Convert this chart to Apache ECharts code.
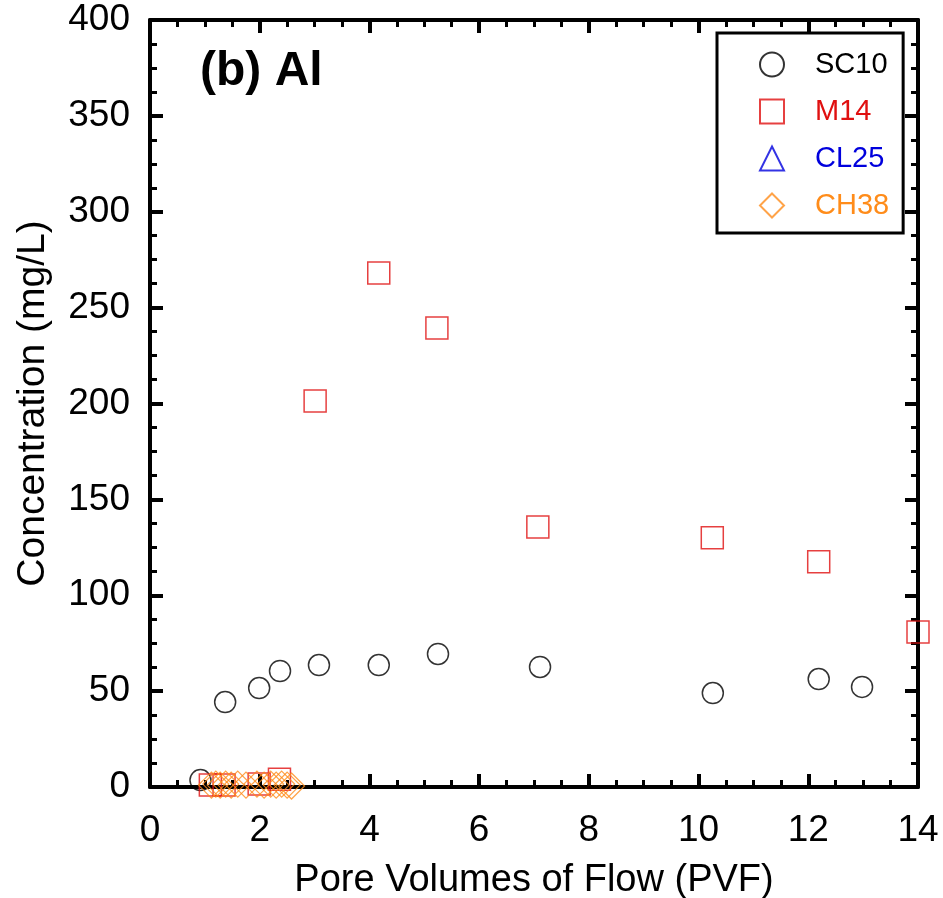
<!DOCTYPE html>
<html><head><meta charset="utf-8">
<script src="https://cdn.jsdelivr.net/npm/echarts@6/dist/echarts.min.js"></script>
<style>html,body{margin:0;padding:0;background:#fff}#c{width:943px;height:898px}</style>
</head><body><div id="c"></div>
<script>
var seriesNames = ['SC10', 'M14', 'CL25', 'CH38'];
var sc10 = [[0.92,3.6],[1.37,44.3],[1.99,51.6],[2.37,60.5],[3.08,63.6],[4.17,63.6],[5.25,69.4],[7.11,62.6],[10.26,49],[12.19,56.3],[12.98,52.2]];
var m14 = [[1.10,1],[1.35,1],[1.99,1.5],[2.36,4],[3.01,201.3],[4.17,268],[5.23,239.4],[7.07,135.6],[10.25,130],[12.19,117.5],[14.0,80.8]];
var cl25 = [];
var ch38 = [[1.12,1],[1.2,1.5],[1.28,1],[1.38,1.5],[1.48,1],[1.6,1.5],[1.75,1],[1.95,1.5],[2.08,1],[2.2,1.5],[2.3,1],[2.4,1.5],[2.5,1],[2.58,0.5]];
var xTicks = {min:0, max:14, interval:2};
var yTicks = {min:0, max:400, interval:50};

var FONT = 'Liberation Sans, Arial, sans-serif';
var colors = {SC10:'#000000', M14:'#e01010', CL25:'#0000dd', CH38:'#ff8c1a'};

function axisCommon(showLabel, margin){
  return {
    axisLine:{show:true, onZero:false, lineStyle:{color:'#000', width:4}},
    axisTick:{show:true, inside:true, length:13, lineStyle:{color:'#000', width:4}},
    minorTick:{show:true, splitNumber:4, length:7, lineStyle:{color:'#000', width:3}},
    splitLine:{show:false},
    axisLabel:{show:showLabel, color:'#000', fontFamily:FONT, fontSize:37, margin:margin}
  };
}

var chart = echarts.init(document.getElementById('c'), null, {renderer:'canvas'});
var x0 = Object.assign({type:'value', position:'bottom', min:xTicks.min, max:xTicks.max, interval:xTicks.interval,
  name:'Pore Volumes of Flow (PVF)', nameLocation:'middle', nameGap:75,
  nameTextStyle:{color:'#000', fontFamily:FONT, fontSize:38}}, axisCommon(true, 25));
var x1 = Object.assign({type:'value', position:'top', min:xTicks.min, max:xTicks.max, interval:xTicks.interval}, axisCommon(false, 8));
var y0 = Object.assign({type:'value', position:'left', min:yTicks.min, max:yTicks.max, interval:yTicks.interval,
  name:'Concentration (mg/L)', nameLocation:'middle', nameGap:97,
  nameTextStyle:{color:'#000', fontFamily:FONT, fontSize:39}}, axisCommon(true, 20));
var y1 = Object.assign({type:'value', position:'right', min:yTicks.min, max:yTicks.max, interval:yTicks.interval}, axisCommon(false, 8));

function mk(name, data, symbol, size, bw){
  return {name:name, type:'scatter', data:data, xAxisIndex:0, yAxisIndex:0, clip:false,
    symbol:symbol, symbolSize:size,
    itemStyle:{color:'rgba(0,0,0,0)', borderColor:colors[name], borderWidth:bw},
    emphasis:{disabled:true}, z:3};
}

chart.setOption({
  animation:false,
  grid:{left:150, right:25, top:20, bottom:111, containLabel:false, outerBoundsMode:'none'},
  xAxis:[x0, x1],
  yAxis:[y0, y1],
  title:{text:'(b) Al', left:195, top:43, textStyle:{fontFamily:FONT, fontSize:48, fontWeight:'bold', color:'#000'}},
  legend:{
    orient:'vertical', left:717, top:33,
    padding:[17,14,13,42], itemGap:18, itemWidth:24, itemHeight:24,
    borderColor:'#000', borderWidth:3, backgroundColor:'#fff',
    textStyle:{fontFamily:FONT, fontSize:29, padding:[0,0,0,26]},
    data:seriesNames.map(function(n){return {name:n, textStyle:{color:colors[n]}};})
  },
  series:[
    mk('SC10', sc10, 'circle', 21, 1.5),
    mk('M14', m14, 'rect', 22, 1.5),
    mk('CL25', cl25, 'triangle', 22, 1.5),
    mk('CH38', ch38, 'diamond', 26, 1.2)
  ]
});
</script></body></html>
